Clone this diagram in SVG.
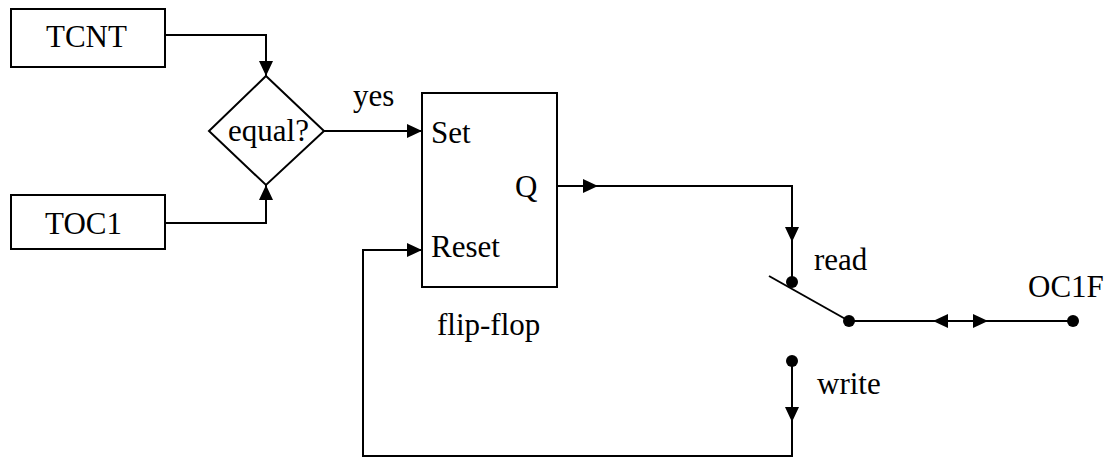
<svg xmlns="http://www.w3.org/2000/svg" width="1110" height="458" viewBox="0 0 1110 458">
<style>
.box{fill:#fff;stroke:#000;stroke-width:2}
.ln{fill:none;stroke:#000;stroke-width:2}
.ar{fill:none;stroke:#000;stroke-width:2;marker-end:url(#ah)}
.dot{fill:#000}
text{font-family:"Liberation Serif","Times New Roman",serif;font-size:31px;fill:#000}
</style>
<defs>
<marker id="ah" viewBox="0 0 15 14" refX="15" refY="7" markerWidth="15" markerHeight="14" markerUnits="userSpaceOnUse" orient="auto">
<path d="M0,0 L15,7 L0,14 z" fill="#000"/>
</marker>
</defs>
<g id="connectors">
<path class="ar" d="M165,35 H266 V76"/>
<path class="ar" d="M165,223 H266 V185"/>
<path class="ar" d="M324,131 H422"/>
<path class="ar" d="M557,186 H598"/>
<path class="ar" d="M598,186 H792 V242"/>
<path class="ln" d="M792,242 V282"/>
<path class="ln" d="M769,276 L849,321"/>
<path class="ln" d="M849,321 H1073"/>
<path class="ar" d="M960,321 H933"/>
<path class="ar" d="M960,321 H988"/>
<path class="ar" d="M792,361 V422"/>
<path class="ar" d="M792,422 V456 H363 V250 H422"/>
<circle class="dot" cx="792" cy="282" r="6"/>
<circle class="dot" cx="849" cy="321" r="6"/>
<circle class="dot" cx="1073" cy="321" r="6"/>
<circle class="dot" cx="792" cy="361" r="6"/>
<text x="353" y="106">yes</text>
<text x="814" y="270">read</text>
<text x="817" y="394">write</text>
</g>
<g id="tcnt">
<rect class="box" x="11" y="9" width="154" height="58"/>
<text x="46" y="47">TCNT</text>
</g>
<g id="toc1">
<rect class="box" x="11" y="195" width="154" height="54"/>
<text x="45" y="234">TOC1</text>
</g>
<g id="equal">
<polygon class="box" points="266,76 324,131 266,185 209,131"/>
<text x="228" y="141">equal?</text>
</g>
<g id="flipflop">
<rect class="box" x="422" y="93" width="135" height="194"/>
<text x="431" y="143">Set</text>
<text x="515" y="197">Q</text>
<text x="431" y="257">Reset</text>
<text x="437" y="335">flip-flop</text>
</g>
<g id="oc1f">
<text x="1028" y="297">OC1F</text>
</g>
</svg>
